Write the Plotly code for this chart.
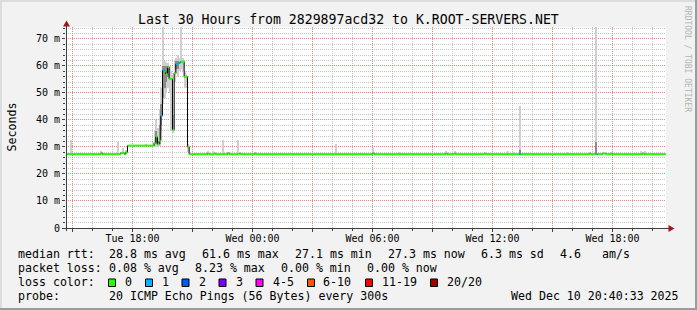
import plotly.graph_objects as go

# ---------------- data ----------------
t_start = "2025-12-09 14:40:33"
t_end = "2025-12-10 20:40:33"

# median rtt (ms) step points: time, value, lost pings (of 20)
med_t = [
    "2025-12-09 14:40", "2025-12-09 16:25", "2025-12-09 16:30", "2025-12-09 17:25",
    "2025-12-09 17:35", "2025-12-09 17:40", "2025-12-09 17:45", "2025-12-09 19:05",
    "2025-12-09 19:10", "2025-12-09 19:15", "2025-12-09 19:20", "2025-12-09 19:25",
    "2025-12-09 19:30", "2025-12-09 19:35", "2025-12-09 19:40", "2025-12-09 19:45",
    "2025-12-09 19:50", "2025-12-09 20:00", "2025-12-09 20:05", "2025-12-09 20:10",
    "2025-12-09 20:15", "2025-12-09 20:20", "2025-12-09 20:25", "2025-12-09 20:35",
    "2025-12-09 20:45", "2025-12-09 20:50", "2025-12-09 21:45", "2025-12-09 21:50",
    "2025-12-09 22:05", "2025-12-09 22:10", "2025-12-09 22:45", "2025-12-09 22:50",
    "2025-12-09 23:20", "2025-12-09 23:25", "2025-12-10 00:05", "2025-12-10 00:10",
    "2025-12-10 06:00", "2025-12-10 06:05", "2025-12-10 09:40", "2025-12-10 09:45",
    "2025-12-10 10:05", "2025-12-10 10:10", "2025-12-10 11:35", "2025-12-10 11:40",
    "2025-12-10 13:20", "2025-12-10 13:25", "2025-12-10 16:50", "2025-12-10 16:55",
    "2025-12-10 17:10", "2025-12-10 17:15", "2025-12-10 17:30", "2025-12-10 17:40",
    "2025-12-10 17:55", "2025-12-10 18:00", "2025-12-10 19:30", "2025-12-10 19:35",
]
med_v = [
    27.3, 27.7, 27.3, 27.8,
    27.3, 28.0, 30.5, 31.4,
    33.8, 31.0, 32.3, 41.5,
    58.5, 58.0, 57.0, 59.5,
    55.2, 36.3, 57.3, 60.7,
    60.9, 61.2, 61.6, 56.0,
    30.1, 27.3, 27.6, 27.3,
    27.6, 27.3, 27.7, 27.3,
    27.6, 27.3, 27.6, 27.3,
    27.7, 27.3, 27.6, 27.3,
    27.6, 27.3, 27.6, 27.3,
    27.3, 27.3, 27.6, 27.3,
    27.4, 27.3, 27.6, 27.3,
    27.6, 27.3, 27.6, 27.3,
]
med_loss = [
    0, 0, 0, 0,
    0, 0, 0, 0,
    0, 0, 0, 1,
    1, 0, 0, 0,
    0, 0, 0, 1,
    1, 1, 0, 0,
    0, 0, 0, 0,
    0, 0, 0, 0,
    0, 0, 0, 0,
    0, 0, 0, 0,
    0, 0, 0, 0,
    1, 0, 0, 0,
    1, 0, 0, 0,
    0, 0, 0, 0,
]

# smoke (ping spread), light layer
smoke_t = [
    "2025-12-09 14:55", "2025-12-09 16:25", "2025-12-09 17:15", "2025-12-09 17:30",
    "2025-12-09 17:40", "2025-12-09 18:40", "2025-12-09 19:00", "2025-12-09 19:05",
    "2025-12-09 19:10", "2025-12-09 19:15", "2025-12-09 19:20", "2025-12-09 19:25",
    "2025-12-09 19:30", "2025-12-09 19:35", "2025-12-09 19:40", "2025-12-09 19:45",
    "2025-12-09 19:50", "2025-12-09 19:55", "2025-12-09 20:00", "2025-12-09 20:05",
    "2025-12-09 20:10", "2025-12-09 20:15", "2025-12-09 20:20", "2025-12-09 20:25",
    "2025-12-09 20:30", "2025-12-09 20:35", "2025-12-09 20:40", "2025-12-09 20:45",
    "2025-12-09 21:45", "2025-12-09 22:00", "2025-12-09 22:30", "2025-12-09 22:50",
    "2025-12-09 23:15", "2025-12-10 00:05", "2025-12-10 04:10", "2025-12-10 06:00",
    "2025-12-10 07:20", "2025-12-10 09:40", "2025-12-10 10:05", "2025-12-10 12:45",
    "2025-12-10 13:00", "2025-12-10 13:20", "2025-12-10 15:45", "2025-12-10 17:10",
    "2025-12-10 19:25", "2025-12-10 19:35",
]
smoke_lo = [
    27.3, 27.3, 27.3, 27.3,
    27.3, 30.5, 30.5, 30.0,
    30.0, 30.0, 30.5, 36.0,
    46.0, 48.0, 50.0, 52.0,
    50.0, 36.0, 35.0, 54.0,
    57.0, 56.0, 58.0, 59.0,
    58.0, 52.0, 52.0, 28.0,
    27.3, 27.3, 27.3, 27.3,
    27.3, 27.3, 27.3, 27.3,
    27.3, 27.3, 27.3, 27.3,
    27.3, 27.3, 27.3, 27.3,
    27.3, 27.3,
]
smoke_hi = [
    32.6, 28.5, 32.0, 29.6,
    28.8, 31.2, 32.0, 36.0,
    40.0, 37.0, 44.0, 52.0,
    74.4, 62.0, 61.0, 61.0,
    60.0, 58.0, 42.0, 62.0,
    63.0, 64.0, 63.0, 74.4,
    63.0, 58.0, 57.0, 31.0,
    28.6, 28.4, 32.6, 28.3,
    32.6, 28.2, 31.0, 29.5,
    28.2, 28.6, 28.4, 28.4,
    28.3, 45.0, 28.3, 74.4,
    28.5, 28.4,
]

# smoke, dark core layer
dark_t = [
    "2025-12-09 19:10", "2025-12-09 19:20", "2025-12-09 19:25", "2025-12-09 19:30",
    "2025-12-09 19:35", "2025-12-09 19:40", "2025-12-09 19:45", "2025-12-09 20:10",
    "2025-12-09 20:15", "2025-12-10 13:20", "2025-12-10 17:10",
]
dark_lo = [31.0, 31.0, 38.0, 48.0, 52.0, 54.0, 56.0, 59.0, 59.0, 27.3, 27.3]
dark_hi = [36.0, 38.0, 46.0, 60.0, 60.0, 60.0, 60.0, 62.0, 62.0, 29.0, 32.0]

# axis ticks
x_tickvals = [
    "2025-12-09 15:00", "2025-12-09 18:00", "2025-12-09 21:00", "2025-12-10 00:00",
    "2025-12-10 03:00", "2025-12-10 06:00", "2025-12-10 09:00", "2025-12-10 12:00",
    "2025-12-10 15:00", "2025-12-10 18:00",
]
x_ticktext = ["", "Tue 18:00", "", "Wed 00:00", "", "Wed 06:00", "", "Wed 12:00", "", "Wed 18:00"]
y_tickvals = [0, 10, 20, 30, 40, 50, 60, 70]
y_ticktext = ["0", "10 m", "20 m", "30 m", "40 m", "50 m", "60 m", "70 m"]

# loss colour legend
loss_labels = ["0", "1", "2", "3", "4-5", "6-10", "11-19", "20/20"]
loss_colors = ["#26ff00", "#00b8ff", "#0059ff", "#7e00ff", "#ff00ff", "#ff5500", "#ff0000", "#a10000"]
loss_color_of = {0: "#26ff00", 1: "#00b8ff", 2: "#0059ff", 3: "#7e00ff"}

# ---------------- layout geometry ----------------
W, H = 697, 310
L, R, T, B = 66, 31, 27, 82
PW, PH = W - L - R, H - T - B
Y0 = T + PH  # pixel y of plot bottom


def px(X):
    return (X - L) / PW


def py(Y):
    return (Y0 - Y) / PH


MONO = "DejaVu Sans Mono"
FS = 11.6

fig = go.Figure()

# smoke bars
bar_w = 5 * 60 * 1000
fig.add_trace(go.Bar(
    x=smoke_t, y=[h - l for h, l in zip(smoke_hi, smoke_lo)], base=smoke_lo,
    width=bar_w, offset=0, marker=dict(color="#cfcfcf", line=dict(width=0)),
    hoverinfo="skip", showlegend=False,
))
fig.add_trace(go.Bar(
    x=dark_t, y=[h - l for h, l in zip(dark_hi, dark_lo)], base=dark_lo,
    width=bar_w, offset=0, marker=dict(color="#8c8c8c", line=dict(width=0)),
    hoverinfo="skip", showlegend=False,
))

# black step line (median)
fig.add_trace(go.Scatter(
    x=med_t + [t_end], y=med_v + [med_v[-1]], mode="lines",
    line=dict(color="black", width=1, shape="hv"), hoverinfo="skip", showlegend=False,
))

# coloured horizontal segments per loss class
ends = med_t[1:] + [t_end]
for loss, col in loss_color_of.items():
    xs, ys = [], []
    for i in range(len(med_t)):
        if med_loss[i] == loss:
            xs += [med_t[i], ends[i], None]
            ys += [med_v[i], med_v[i], None]
    if xs:
        fig.add_trace(go.Scatter(
            x=xs, y=ys, mode="lines", line=dict(color=col, width=2),
            hoverinfo="skip", showlegend=False, connectgaps=False,
        ))

MGRID = "rgba(255,90,90,0.55)"
GRID = "rgba(160,160,160,0.6)"

fig.update_layout(
    width=W, height=H,
    margin=dict(l=L, r=R, t=T, b=B),
    paper_bgcolor="#f2f2f2", plot_bgcolor="#ffffff",
    barmode="overlay", bargap=0,
    xaxis=dict(
        type="date", range=[t_start, t_end],
        tickmode="array", tickvals=x_tickvals, ticktext=x_ticktext,
        showgrid=True, gridcolor=MGRID, griddash="1px,1px", gridwidth=1,
        ticks="outside", ticklen=3, tickcolor="#404040",
        ticklabelstandoff=-2,
        tickfont=dict(family=MONO, size=10, color="black"),
        showline=False, zeroline=False, fixedrange=True,
        minor=dict(tickmode="linear", tick0="2025-12-09 15:00", dtick=3600000,
                   showgrid=True, gridcolor=GRID, griddash="1px,1px", gridwidth=1,
                   ticks="outside", ticklen=2, tickcolor="#404040"),
    ),
    yaxis=dict(
        range=[0, 74.4],
        tickmode="array", tickvals=y_tickvals, ticktext=y_ticktext,
        showgrid=True, gridcolor=MGRID, griddash="1px,1px", gridwidth=1,
        ticks="outside", ticklen=3, tickcolor="#404040",
        tickfont=dict(family=MONO, size=10, color="black"),
        showline=False, zeroline=False, fixedrange=True,
        minor=dict(tickmode="linear", tick0=0, dtick=2,
                   showgrid=True, gridcolor=GRID, griddash="1px,1px", gridwidth=1,
                   ticks="outside", ticklen=2, tickcolor="#404040"),
    ),
)

shapes = []
# outer 3D frame
shapes.append(dict(type="rect", xref="paper", yref="paper", x0=px(0), x1=px(2), y0=py(H), y1=py(0),
                   fillcolor="#dcdcdc", line=dict(width=0), layer="above"))
shapes.append(dict(type="rect", xref="paper", yref="paper", x0=px(0), x1=px(W), y0=py(2), y1=py(0),
                   fillcolor="#dcdcdc", line=dict(width=0), layer="above"))
shapes.append(dict(type="rect", xref="paper", yref="paper", x0=px(W - 2), x1=px(W), y0=py(H), y1=py(0),
                   fillcolor="#9c9c9c", line=dict(width=0), layer="above"))
shapes.append(dict(type="rect", xref="paper", yref="paper", x0=px(0), x1=px(W), y0=py(H), y1=py(H - 2),
                   fillcolor="#9c9c9c", line=dict(width=0), layer="above"))
# axes
AX = "#404040"
shapes.append(dict(type="line", xref="paper", yref="paper", x0=px(L + 0.5), x1=px(L + 0.5),
                   y0=py(Y0 + 3), y1=py(25), line=dict(color=AX, width=1), layer="above"))
shapes.append(dict(type="line", xref="paper", yref="paper", x0=px(L - 3), x1=px(669),
                   y0=py(Y0 + 0.5), y1=py(Y0 + 0.5), line=dict(color=AX, width=1), layer="above"))
# arrows
ARW = "#a01818"
shapes.append(dict(type="path", xref="paper", yref="paper",
                   path=f"M {px(L - 3)} {py(26.5)} L {px(L + 4)} {py(26.5)} L {px(L + 0.5)} {py(20.5)} Z",
                   fillcolor=ARW, line=dict(width=0), layer="above"))
shapes.append(dict(type="path", xref="paper", yref="paper",
                   path=f"M {px(668.5)} {py(Y0 - 3)} L {px(668.5)} {py(Y0 + 4)} L {px(674.5)} {py(Y0 + 0.5)} Z",
                   fillcolor=ARW, line=dict(width=0), layer="above"))

annotations = []


def text(X, Y, s, size=FS, xanchor="left", color="black", angle=0, family=MONO):
    annotations.append(dict(
        xref="paper", yref="paper", x=px(X), y=py(Y), text=s, showarrow=False,
        xanchor=xanchor, yanchor="middle", textangle=angle,
        font=dict(family=family, size=size, color=color),
    ))


text(348, 19.5, "Last 30 Hours from 2829897acd32 to K.ROOT-SERVERS.NET", size=13.2, xanchor="center")
text(11, 127.5, "Seconds", xanchor="center", angle=-90)
text(687.5, 58.5, "RRDTOOL / TOBI OETIKER", size=8, xanchor="center", angle=90, color="#b4b4b4")

# legend lines
row1 = [(16, "median rtt:"), (107, "28.8 ms avg"), (200, "61.6 ms max"), (293, "27.1 ms min"),
        (386, "27.3 ms now"), (479, "6.3 ms sd"), (558, "4.6"), (600, "am/s")]
row2 = [(16, "packet loss:"), (107, "0.08 % avg"), (193, "8.23 % max"), (279, "0.00 % min"),
        (365, "0.00 % now")]
for X, s in row1:
    text(X - 0.5, 254, s)
for X, s in row2:
    text(X - 0.5, 268, s)
text(15.5, 282, "loss color:")
box_x = [108.5, 145.5, 182, 219, 256, 307.5, 365.5, 430.5]
lab_x = [122.5, 159.5, 196.5, 233.5, 270.5, 321, 380, 445.5]
for bx, lx, lab, col in zip(box_x, lab_x, loss_labels, loss_colors):
    shapes.append(dict(type="rect", xref="paper", yref="paper",
                       x0=px(bx), x1=px(bx + 7), y0=py(286.5), y1=py(279),
                       fillcolor=col, line=dict(color="black", width=1), layer="above"))
    text(lx, 282, lab)
text(15.5, 296, "probe:")
text(106.8, 296, "20 ICMP Echo Pings (56 Bytes) every 300s")
text(680.5, 296, "Wed Dec 10 20:40:33 2025", xanchor="right")

fig.update_layout(shapes=shapes, annotations=annotations)
fig.write_html("out.html")
